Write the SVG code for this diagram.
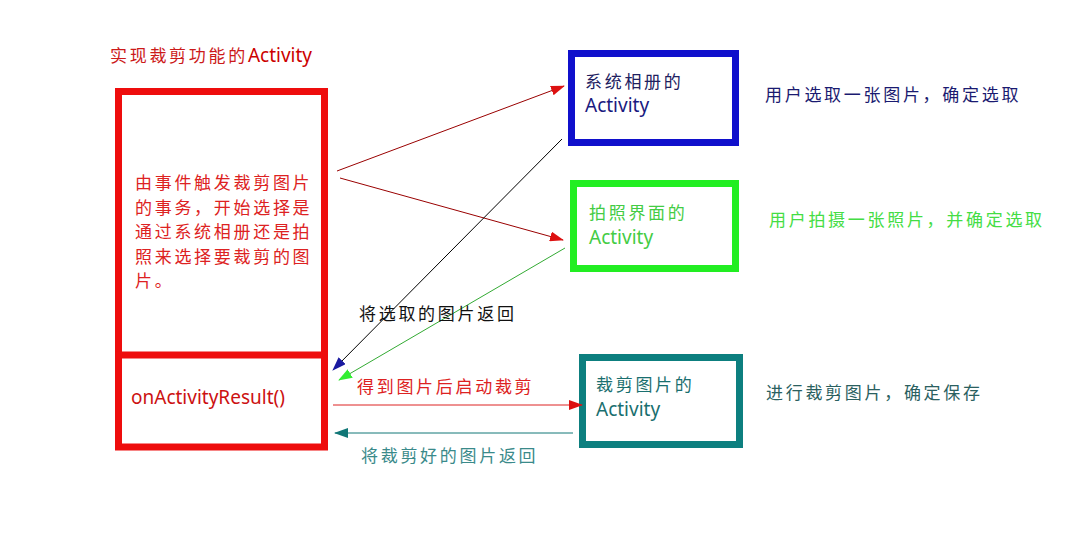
<svg xmlns="http://www.w3.org/2000/svg" width="1086" height="533" viewBox="0 0 1086 533">
<style>
text{font-family:"Noto Sans CJK SC","Noto Sans",sans-serif;font-size:17px;letter-spacing:2.7px}
.lat{font-family:"Noto Sans","Noto Sans CJK SC",sans-serif;letter-spacing:0;font-size:19px}
.box{fill:#fff;stroke-width:7}
.c{fill:none;stroke-width:1}
</style>
<defs>
<marker id="aRed" markerUnits="userSpaceOnUse" markerWidth="14" markerHeight="10" refX="13" refY="5" orient="auto"><path d="M0,0 L14,5 L0,10 Z" fill="#dd1111"/></marker>
<marker id="aBlue" markerUnits="userSpaceOnUse" markerWidth="14" markerHeight="10" refX="13" refY="5" orient="auto"><path d="M0,0 L14,5 L0,10 Z" fill="#1a1aa0"/></marker>
<marker id="aGreen" markerUnits="userSpaceOnUse" markerWidth="14" markerHeight="10" refX="13" refY="5" orient="auto"><path d="M0,0 L14,5 L0,10 Z" fill="#33ee33"/></marker>
<marker id="aTeal" markerUnits="userSpaceOnUse" markerWidth="14" markerHeight="10" refX="13" refY="5" orient="auto"><path d="M0,0 L14,5 L0,10 Z" fill="#117777"/></marker>
</defs>
<rect width="1086" height="533" fill="#fff"/>

<g id="title">
<text x="110" y="62" fill="#cc1a1a">实现裁剪功能的<tspan class="lat" fill="#cc0000">Activity</tspan></text>
</g>

<g id="crop-activity">
<rect class="box" x="118.5" y="91.5" width="206" height="264" stroke="#ee0d0d"/>
<rect class="box" x="118.5" y="355" width="206" height="92" stroke="#ee0d0d"/>
<g fill="#dd2222">
<text x="135" y="189">由事件触发裁剪图片</text>
<text x="135" y="214">的事务，开始选择是</text>
<text x="135" y="238">通过系统相册还是拍</text>
<text x="135" y="263">照来选择要裁剪的图</text>
<text x="135" y="287">片。</text>
</g>
<text class="lat" x="131" y="404" fill="#cc1111">onActivityResult()</text>
</g>

<g id="album-activity">
<rect class="box" x="571.5" y="53.5" width="164" height="89" stroke="#1010cc"/>
<text x="585" y="88" fill="#202060">系统相册的</text>
<text class="lat" x="585" y="112" fill="#1a1a80">Activity</text>
<text x="765" y="101" fill="#1a1a70">用户选取一张图片，确定选取</text>
</g>

<g id="camera-activity">
<rect class="box" x="573.5" y="183.5" width="162" height="85" stroke="#22ee22"/>
<text x="589" y="219" fill="#44cc44">拍照界面的</text>
<text class="lat" x="589" y="244" fill="#44cc44">Activity</text>
<text x="769" y="226" fill="#44dd44">用户拍摄一张照片，并确定选取</text>
</g>

<g id="cropper-activity">
<rect class="box" x="582.5" y="357.5" width="157" height="87" stroke="#0d7f7f"/>
<text x="596" y="391" fill="#1a6f6f">裁剪图片的</text>
<text class="lat" x="596" y="416" fill="#1a6f6f">Activity</text>
<text x="766" y="399" fill="#2a6060">进行裁剪图片，确定保存</text>
</g>

<g id="connectors">
<line class="c" x1="337" y1="171" x2="564" y2="86" stroke="#990000" marker-end="url(#aRed)"/>
<line class="c" x1="340" y1="178" x2="563" y2="240" stroke="#990000" marker-end="url(#aRed)"/>
<line class="c" x1="562" y1="139" x2="333" y2="370" stroke="#000000" marker-end="url(#aBlue)"/>
<line class="c" x1="565" y1="248" x2="339" y2="380" stroke="#33aa33" marker-end="url(#aGreen)"/>
<line class="c" x1="333" y1="405" x2="582" y2="405" stroke="#dd2222" marker-end="url(#aRed)"/>
<line class="c" x1="573" y1="433" x2="335" y2="433" stroke="#117777" marker-end="url(#aTeal)"/>
<text x="359" y="320" fill="#111111">将选取的图片返回</text>
<text x="357" y="393" fill="#dd2222">得到图片后启动裁剪</text>
<text x="361" y="462" fill="#3a8a8a">将裁剪好的图片返回</text>
</g>
</svg>
